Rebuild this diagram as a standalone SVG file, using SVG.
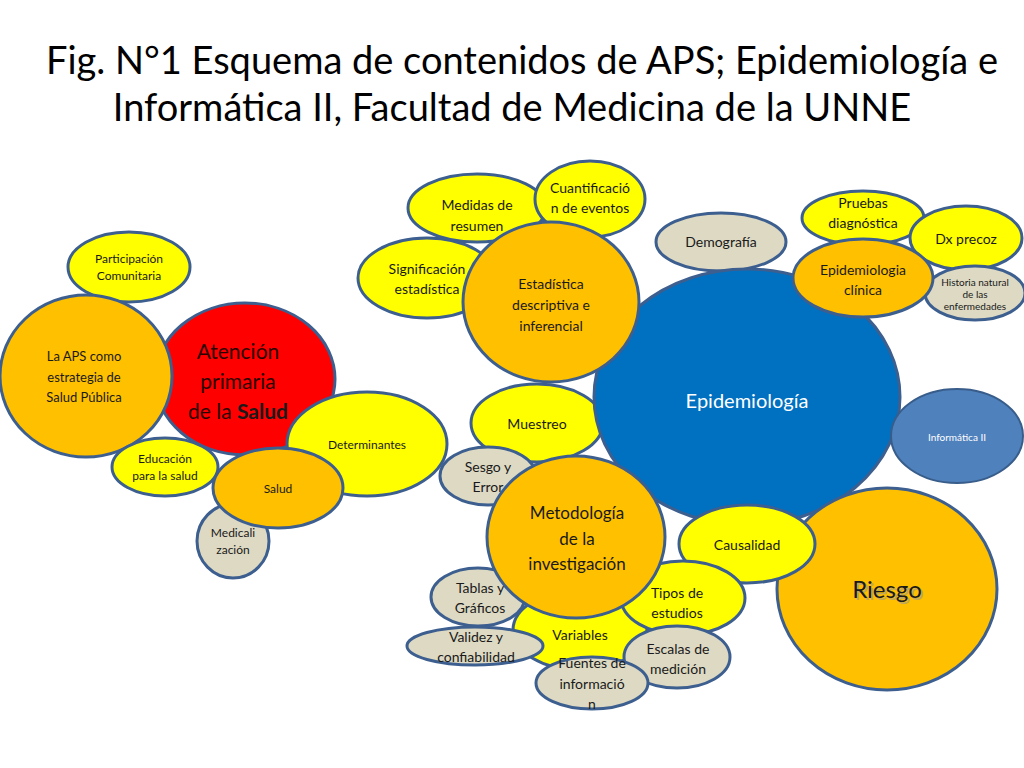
<svg xmlns="http://www.w3.org/2000/svg" width="1024" height="768" viewBox="0 0 1024 768">
<style>
.n{stroke:#3D5F8F;stroke-width:3}
.y{fill:#FFFF00}
.o{fill:#FFC000}
.g{fill:#DDD9C3}
.t{font-family:Lato,"Liberation Sans",sans-serif;fill:#1a1a1a;text-anchor:middle}
.s12{font-size:12px}
.s13{font-size:13px}
.s14{font-size:14px}
.title{font-family:Lato,"Liberation Sans",sans-serif;font-size:38px;fill:#000;text-anchor:middle}
</style>
<rect width="1024" height="768" fill="#fff"/>
<g id="title">
<text class="title" x="522" y="74">Fig. N°1 Esquema de contenidos de APS; Epidemiología e</text>
<text class="title" x="512" y="121">Informática II, Facultad de Medicina de la UNNE</text>
</g>
<g id="participacion"><ellipse class="n y" cx="129" cy="267" rx="61" ry="35"/><text class="t s12" x="129" y="263">Participación</text><text class="t s12" x="129" y="280">Comunitaria</text></g>
<g id="atencion"><ellipse class="n" fill="#FF0000" cx="245" cy="379" rx="90" ry="76"/><text class="t" style="font-size:21px;fill:#2a0000" x="238" y="359">Atención</text><text class="t" style="font-size:21px;fill:#2a0000" x="238" y="389">primaria</text><text class="t" style="font-size:21px;fill:#2a0000" x="238" y="419">de la <tspan font-weight="bold" fill="#1a1a1a">Salud</tspan></text></g>
<g id="aps"><ellipse class="n o" cx="86" cy="376" rx="86" ry="81"/><text class="t s13" x="84" y="361">La APS como</text><text class="t s13" x="84" y="382">estrategia de</text><text class="t s13" x="84" y="402">Salud Pública</text></g>
<g id="educacion"><ellipse class="n y" cx="165" cy="467" rx="53" ry="29"/><text class="t s12" x="165" y="463">Educación</text><text class="t s12" x="165" y="480">para la salud</text></g>
<g id="determinantes"><ellipse class="n y" cx="367" cy="444" rx="80" ry="52"/><text class="t s12" x="367" y="449">Determinantes</text></g>
<g id="medicalizacion"><ellipse class="n g" cx="233" cy="541" rx="36" ry="37"/><text class="t s12" x="233" y="537">Medicali</text><text class="t s12" x="233" y="554">zación</text></g>
<g id="salud"><ellipse class="n o" cx="278" cy="488" rx="65" ry="40"/><text class="t s12" x="278" y="493">Salud</text></g>
<g id="medidas"><ellipse class="n y" cx="477" cy="208" rx="69" ry="34"/><text class="t s14" x="477" y="210">Medidas de</text><text class="t s14" x="477" y="231">resumen</text></g>
<g id="cuantificacion"><ellipse class="n y" cx="590" cy="199" rx="55" ry="38"/><text class="t s14" x="590" y="193">Cuantificació</text><text class="t s14" x="590" y="213">n de eventos</text></g>
<g id="significacion"><ellipse class="n y" cx="427" cy="278" rx="69" ry="40"/><text class="t s14" x="427" y="274">Significación</text><text class="t s14" x="427" y="294">estadística</text></g>
<g id="demografia"><ellipse class="n g" cx="721" cy="242" rx="65" ry="29"/><text class="t s14" x="721" y="247">Demografía</text></g>
<g id="muestreo"><ellipse class="n y" cx="537" cy="423" rx="66" ry="39"/><text class="t s14" x="537" y="429">Muestreo</text></g>
<g id="epidemiologia"><ellipse class="n" fill="#0070C0" cx="747" cy="397" rx="153" ry="128"/><text class="t" style="font-size:20px;fill:#fff" x="747" y="408">Epidemiología</text></g>
<g id="estadistica"><ellipse class="n o" cx="551" cy="302" rx="88" ry="80"/><text class="t s14" x="551" y="289">Estadística</text><text class="t s14" x="551" y="310">descriptiva e</text><text class="t s14" x="551" y="331">inferencial</text></g>
<g id="pruebas"><ellipse class="n y" cx="863" cy="218" rx="61" ry="27"/><text class="t s14" x="863" y="208">Pruebas</text><text class="t s14" x="863" y="228">diagnóstica</text></g>
<g id="dxprecoz"><ellipse class="n y" cx="966" cy="238" rx="56" ry="32"/><text class="t s14" x="966" y="244">Dx precoz</text></g>
<g id="historia"><ellipse class="n g" cx="975" cy="293" rx="50" ry="27"/><text class="t" style="font-size:10px" x="975" y="286">Historia natural</text><text class="t" style="font-size:10px" x="975" y="298">de las</text><text class="t" style="font-size:10px" x="975" y="310">enfermedades</text></g>
<g id="epiclinica"><ellipse class="n o" cx="863" cy="278" rx="70" ry="39"/><text class="t s14" x="863" y="275">Epidemiologia</text><text class="t s14" x="863" y="295">clínica</text></g>
<g id="informatica"><ellipse stroke="#385D8A" stroke-width="2" fill="#4F81BD" cx="957" cy="436" rx="66" ry="47"/><text class="t" style="font-size:10px;fill:#fff" x="957" y="441">Informática II</text></g>
<g id="riesgo"><ellipse class="n o" cx="887" cy="589" rx="110" ry="101"/><text class="t" style="font-size:24px;fill:#999;opacity:0.6" x="889" y="600">Riesgo</text><text class="t" style="font-size:24px" x="887" y="598">Riesgo</text></g>
<g id="causalidad"><ellipse class="n y" cx="747" cy="544" rx="68" ry="39"/><text class="t s14" x="747" y="550">Causalidad</text></g>
<g id="sesgo"><ellipse class="n g" cx="488" cy="476" rx="48" ry="29"/><text class="t s14" x="488" y="472">Sesgo y</text><text class="t s14" x="488" y="492">Error</text></g>
<g id="variables"><ellipse class="n y" cx="580" cy="630" rx="67" ry="40"/><text class="t s14" x="580" y="640">Variables</text></g>
<g id="tipos"><ellipse class="n y" cx="683" cy="598" rx="62" ry="37"/><text class="t s14" x="677" y="598">Tipos de</text><text class="t s14" x="677" y="618">estudios</text></g>
<g id="tablas"><ellipse class="n g" cx="478" cy="597" rx="47" ry="29"/><text class="t s14" x="480" y="593">Tablas y</text><text class="t s14" x="480" y="613">Gráficos</text></g>
<g id="metodologia"><ellipse class="n o" cx="576" cy="537" rx="89" ry="81"/><text class="t" style="font-size:17px" x="577" y="519">Metodología</text><text class="t" style="font-size:17px" x="577" y="545">de la</text><text class="t" style="font-size:17px" x="577" y="570">investigación</text></g>
<g id="validez"><ellipse class="n g" cx="475" cy="646" rx="68" ry="19"/><text class="t s14" x="476" y="642">Validez y</text><text class="t s14" x="476" y="662">confiabilidad</text></g>
<g id="escalas"><ellipse class="n g" cx="677" cy="657" rx="53" ry="31"/><text class="t s14" x="678" y="654">Escalas de</text><text class="t s14" x="678" y="674">medición</text></g>
<g id="fuentes"><ellipse class="n g" cx="592" cy="683" rx="56" ry="26"/><text class="t s14" x="592" y="668">Fuentes de</text><text class="t s14" x="592" y="689">informació</text><text class="t s14" x="592" y="709">n</text></g>
</svg>
